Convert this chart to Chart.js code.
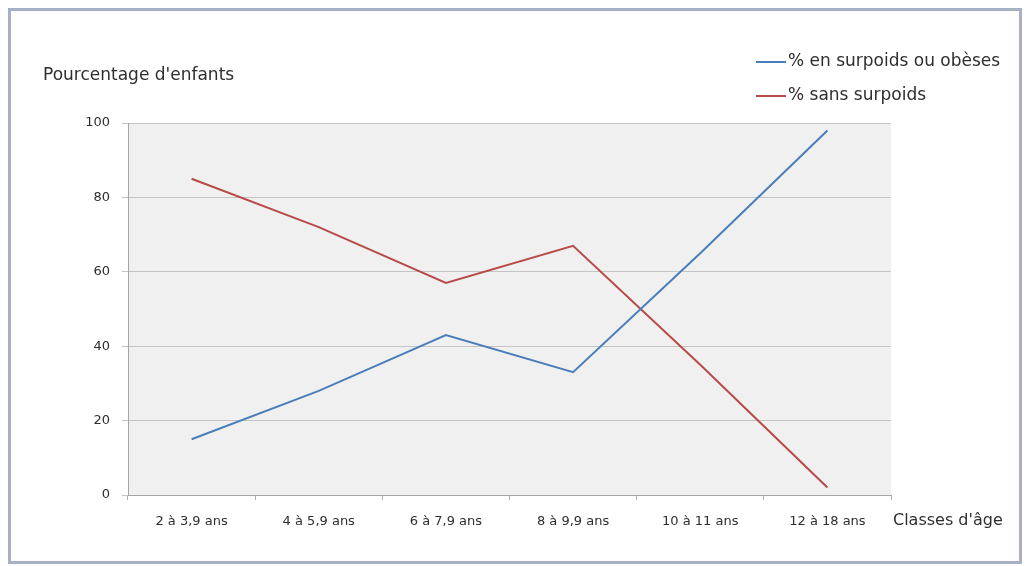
<!DOCTYPE html>
<html lang="fr">
<head>
<meta charset="utf-8">
<title>Pourcentage d'enfants par classe d'âge</title>
<script src="https://cdn.jsdelivr.net/npm/chart.js@4/dist/chart.umd.min.js"></script>
<style>
  html, body { margin: 0; padding: 0; background: #ffffff; }
  #wrap { width: 1029px; height: 566px; position: relative; }
  canvas { display: block; }
</style>
</head>
<body>
<div id="wrap"><canvas id="chart" width="1029" height="566"></canvas></div>
<script>
// Classes d'âge et pourcentages d'enfants
const categories = ["2 à 3,9 ans", "4 à 5,9 ans", "6 à 7,9 ans", "8 à 9,9 ans", "10 à 11 ans", "12 à 18 ans"];
const surpoids = [15, 28, 43, 33, 65, 98];
const sansSurpoids = [85, 72, 57, 67, 35, 2];
const seriesNames = ["% en surpoids ou obèses", "% sans surpoids"];
const yTicks = [0, 20, 40, 60, 80, 100];

const FONT = "'DejaVu Sans', 'Open Sans', sans-serif";
const TEXT = "#2e2e2e";
const BLUE = "#4a7ebb";
const RED = "#b84a47";

// Cadre, fond de la zone de tracé, titres et légende
const decor = {
  id: "decor",
  beforeDraw(chart) {
    const { ctx, chartArea: a } = chart;
    ctx.save();
    ctx.fillStyle = "#ffffff";
    ctx.fillRect(0, 0, chart.width, chart.height);
    ctx.fillStyle = "#f0f0f0";
    ctx.fillRect(a.left, a.top, a.right - a.left, a.bottom - a.top);
    ctx.restore();
  },
  afterDraw(chart) {
    const { ctx, chartArea: a } = chart;
    ctx.save();
    // cadre extérieur
    ctx.strokeStyle = "#a7b1c6";
    ctx.lineWidth = 3;
    ctx.strokeRect(9.5, 9.5, 1011, 553);

    ctx.fillStyle = TEXT;
    ctx.textBaseline = "middle";
    ctx.textAlign = "left";
    ctx.font = "17px " + FONT;
    ctx.fillText("Pourcentage d'enfants", 43, 76);
    ctx.font = "16px " + FONT;
    ctx.fillText("Classes d'âge", a.right + 2, 521);

    // légende
    const rows = [62, 96];
    chart.data.datasets.forEach((ds, i) => {
      const y = rows[i];
      ctx.strokeStyle = ds.borderColor;
      ctx.lineWidth = 2;
      ctx.beginPath();
      ctx.moveTo(756, y);
      ctx.lineTo(786, y);
      ctx.stroke();
      ctx.fillStyle = TEXT;
      ctx.font = "17px " + FONT;
      ctx.fillText(ds.label, 788, y);
    });
    ctx.restore();
  }
};

new Chart(document.getElementById("chart"), {
  type: "line",
  data: {
    labels: categories,
    datasets: [
      { label: seriesNames[0], data: surpoids, borderColor: BLUE, backgroundColor: BLUE, borderWidth: 2, pointRadius: 0, tension: 0 },
      { label: seriesNames[1], data: sansSurpoids, borderColor: RED, backgroundColor: RED, borderWidth: 2, pointRadius: 0, tension: 0 }
    ]
  },
  options: {
    responsive: false,
    animation: false,
    layout: { padding: { left: 48, right: 138, top: 123, bottom: 31 } },
    plugins: { legend: { display: false }, title: { display: false }, tooltip: { enabled: false } },
    scales: {
      x: {
        offset: true,
        afterFit(s) { s.height = 40; },
        grid: { offset: true, drawOnChartArea: false, drawTicks: true, tickLength: 5, color: "#b0b0b0" },
        border: { display: true, color: "#a6a6a6", width: 1 },
        ticks: { color: TEXT, font: { family: FONT, size: 13 }, padding: 14, maxRotation: 0, autoSkip: false }
      },
      y: {
        min: 0,
        max: 100,
        afterFit(s) { s.width = 80; },
        afterBuildTicks(s) { s.ticks = yTicks.map(v => ({ value: v })); },
        grid: { color: "#c4c4c4", lineWidth: 1, drawTicks: true, tickLength: 6 },
        border: { display: true, color: "#a6a6a6", width: 1 },
        ticks: { color: TEXT, font: { family: FONT, size: 13 }, padding: 12 }
      }
    }
  },
  plugins: [decor]
});
</script>
</body>
</html>
